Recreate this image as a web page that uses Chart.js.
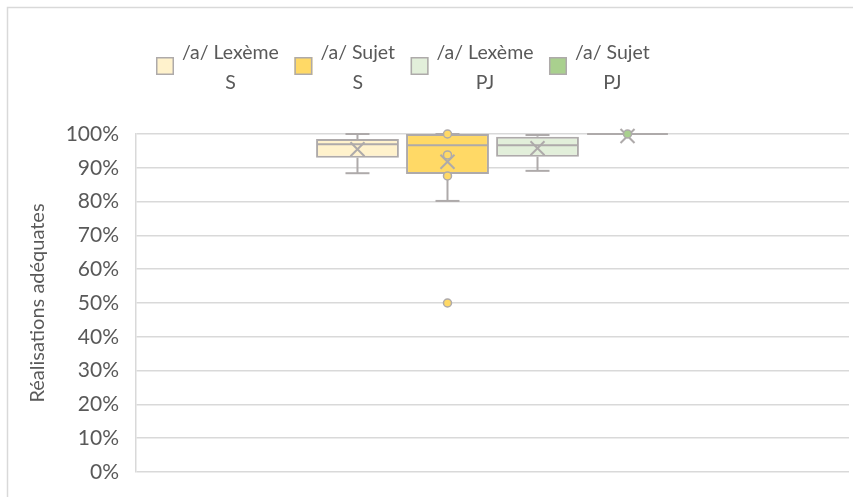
<!DOCTYPE html>
<html>
<head>
<meta charset="utf-8">
<script src="https://cdn.jsdelivr.net/npm/chart.js@4/dist/chart.umd.min.js"></script>
<style>
  html, body { margin: 0; padding: 0; background: #fff; }
</style>
</head>
<body>
<canvas id="chart" width="853" height="497"></canvas>
<script>
// series (one box per series), values in %
const categories = [['/a/ Lexème', 'S'], ['/a/ Sujet', 'S'], ['/a/ Lexème', 'PJ'], ['/a/ Sujet', 'PJ']];
const q1 = [93, 88.2, 93.3, 100];
const q3 = [98.5, 100, 99.2, 100];
const medians = [97, 96.7, 96.7, 100];
const whiskerLow = [88.4, 80.2, 89.1, 100];
const whiskerHigh = [100, 100, 99.7, 100];
const means = [95.5, 91.8, 95.8, 99.4];
const outliers = [[], [100, 93.8, 87.6, 50], [], [100]];

const fills = ['#FFF2CC', '#FFD966', '#E2EFDA', '#A9D08E'];
const boxBorder = '#AEAAAA';
const textColor = '#595959';
const gridColor = '#D9D9D9';
const fontFamily = 'Lato, "Noto Sans", sans-serif';

// outer chart frame (only left/top visible in the crop)
const framePlugin = {
  id: 'frame',
  beforeDraw(chart) {
    const ctx = chart.ctx;
    ctx.save();
    ctx.strokeStyle = gridColor;
    ctx.lineWidth = 1.5;
    ctx.strokeRect(7.5, 7.5, 1200, 1200);
    ctx.restore();
  }
};

// whiskers, medians, means and outlier dots
const boxPlugin = {
  id: 'boxExtras',
  afterDatasetsDraw(chart) {
    const ctx = chart.ctx;
    const y = chart.scales.y;
    const line = (x1, y1, x2, y2) => {
      ctx.beginPath(); ctx.moveTo(x1, y1); ctx.lineTo(x2, y2); ctx.stroke();
    };
    ctx.save();
    ctx.strokeStyle = boxBorder;
    ctx.lineWidth = 2;
    chart.data.datasets.forEach((ds, i) => {
      const bar = chart.getDatasetMeta(i).data[0];
      const cx = bar.x, half = bar.width / 2;
      const yLo = y.getPixelForValue(whiskerLow[i]);
      const yHi = y.getPixelForValue(whiskerHigh[i]);
      line(cx, y.getPixelForValue(q1[i]), cx, yLo);
      line(cx, y.getPixelForValue(q3[i]), cx, yHi);
      line(cx - 12, yLo, cx + 12, yLo);
      line(cx - 12, yHi, cx + 12, yHi);
      const ym = y.getPixelForValue(medians[i]);
      line(cx - half + 1, ym, cx + half - 1, ym);
      const yMean = y.getPixelForValue(means[i]);
      line(cx - 7, yMean - 7, cx + 7, yMean + 7);
      line(cx - 7, yMean + 7, cx + 7, yMean - 7);
    });
    ctx.lineWidth = 1.5;
    chart.data.datasets.forEach((ds, i) => {
      const bar = chart.getDatasetMeta(i).data[0];
      outliers[i].forEach(v => {
        ctx.beginPath();
        ctx.arc(bar.x, y.getPixelForValue(v), 4, 0, Math.PI * 2);
        ctx.fillStyle = fills[i];
        ctx.fill();
        ctx.stroke();
      });
    });
    ctx.restore();
  }
};

// two-line legend at the top
const legendPlugin = {
  id: 'twoLineLegend',
  afterDraw(chart) {
    const ctx = chart.ctx;
    ctx.save();
    ctx.font = '19.5px ' + fontFamily;
    ctx.textAlign = 'center';
    ctx.textBaseline = 'middle';
    let x = 156;
    categories.forEach((lines, i) => {
      const w = Math.max(...lines.map(l => ctx.measureText(l).width));
      ctx.fillStyle = fills[i];
      ctx.fillRect(x, 57, 18, 18);
      ctx.strokeStyle = boxBorder;
      ctx.lineWidth = 1.5;
      ctx.strokeRect(x + 0.75, 57.75, 16.5, 16.5);
      const tx = x + 18 + 8;
      ctx.fillStyle = textColor;
      lines.forEach((l, j) => ctx.fillText(l, tx + w / 2, 53 + j * 30));
      x = tx + w + 15.5;
    });
    ctx.restore();
  }
};

new Chart(document.getElementById('chart'), {
  type: 'bar',
  data: {
    labels: [''],
    datasets: categories.map((c, i) => ({
      label: c.join(' '),
      data: [[q1[i], q3[i]]],
      backgroundColor: fills[i],
      borderColor: boxBorder,
      borderWidth: 2,
      borderSkipped: false,
      categoryPercentage: 0.505,
      barPercentage: 0.92
    }))
  },
  options: {
    responsive: false,
    animation: false,
    layout: { padding: { left: 22, top: 134, right: 4, bottom: 25 } },
    plugins: {
      legend: { display: false },
      tooltip: { enabled: false }
    },
    scales: {
      x: { display: false },
      y: {
        min: 0,
        max: 100,
        afterFit(scale) { scale.width = 114; },
        ticks: {
          stepSize: 10,
          padding: 0,
          color: textColor,
          font: { family: fontFamily, size: 21 },
          callback: v => v + '%'
        },
        grid: { color: gridColor, lineWidth: 1.5, drawTicks: true, tickLength: 17, tickColor: 'rgba(0,0,0,0)' },
        border: { display: true, color: gridColor, width: 1.5 },
        title: {
          display: true,
          text: 'Réalisations adéquates',
          color: textColor,
          font: { family: fontFamily, size: 20 }
        }
      }
    }
  },
  plugins: [framePlugin, boxPlugin, legendPlugin]
});
</script>
</body>
</html>
